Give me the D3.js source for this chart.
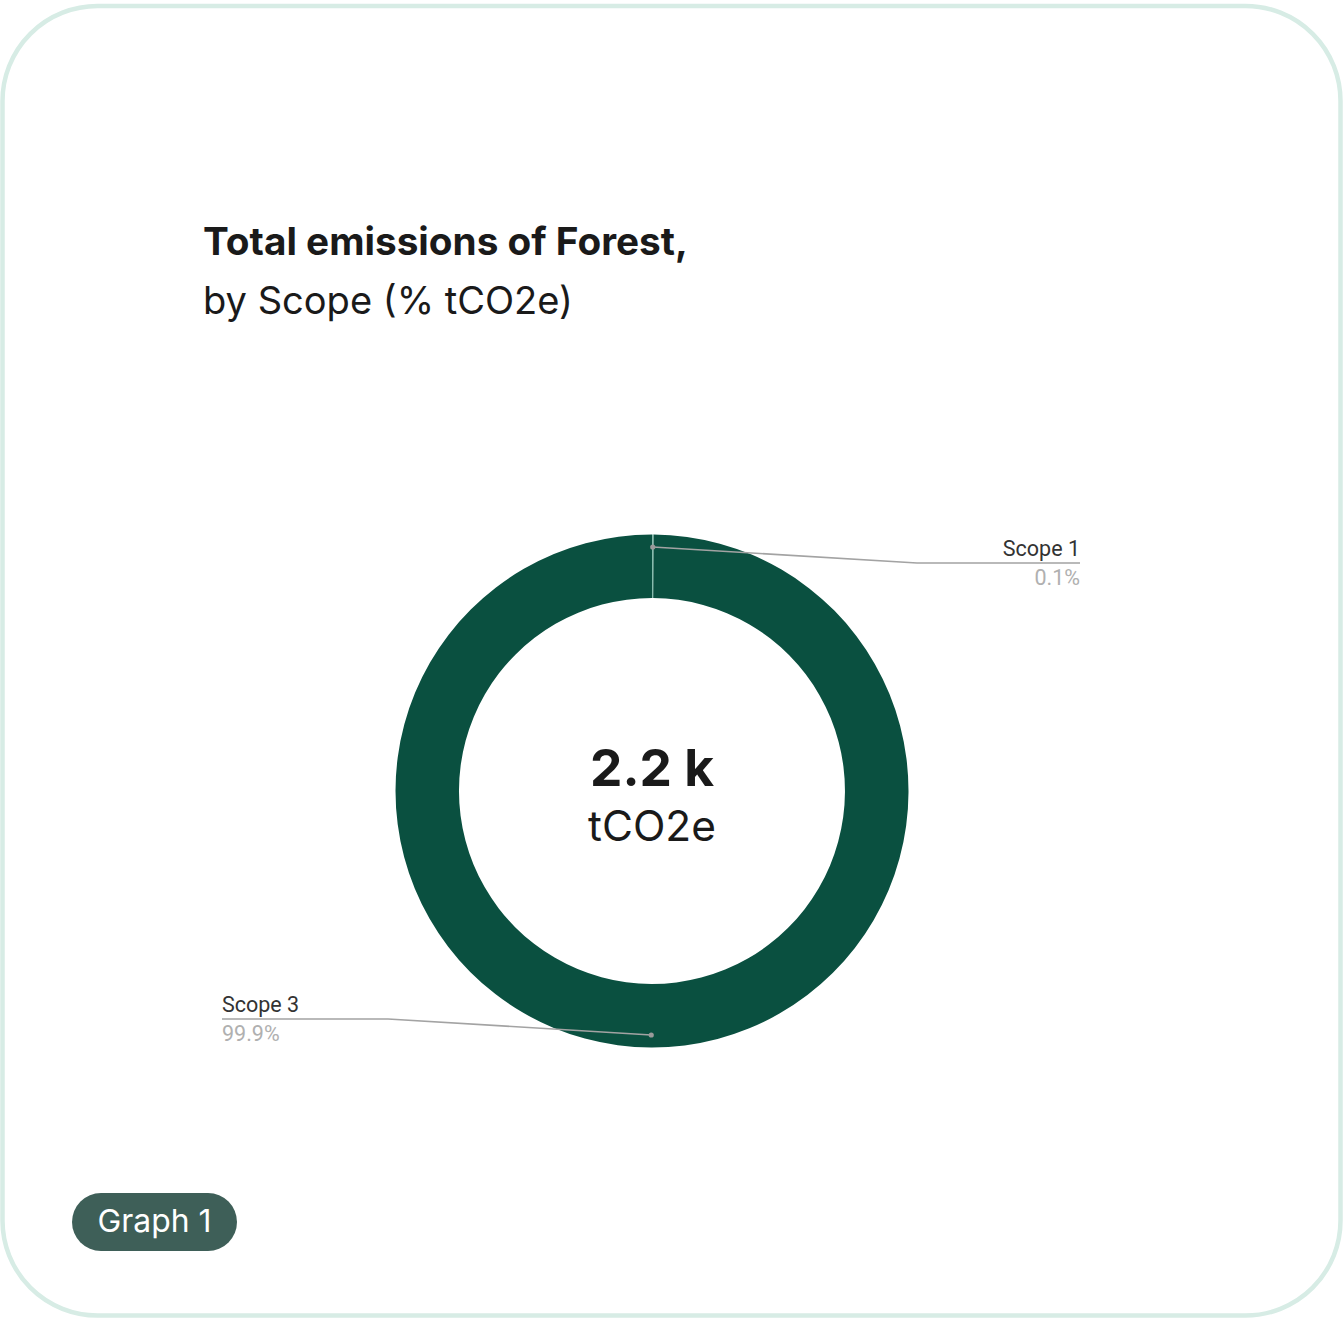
<!DOCTYPE html>
<html>
<head>
<meta charset="utf-8">
<script src="https://cdn.jsdelivr.net/npm/d3@7"></script>
<style>
  html, body { margin: 0; padding: 0; background: #ffffff; }
  svg { display: block; }
</style>
</head>
<body>
<script>
// Emission shares by scope (% of tCO2e)
const scopes = ["Scope 1", "Scope 3"];
const shares = [0.1, 99.9];
const shareLabels = ["0.1%", "99.9%"];
const totalValue = "2.2 k";
const totalUnit = "tCO2e";
const titleLines = ["Total emissions of Forest,", "by Scope (% tCO2e)"];
const badgeText = "Graph 1";

const W = 1343, H = 1319;
const svg = d3.select("body").append("svg").attr("width", W).attr("height", H);

// card frame
svg.append("rect")
  .attr("x", 2.5).attr("y", 6).attr("width", 1338).attr("height", 1309.5)
  .attr("rx", 95).attr("ry", 95)
  .attr("fill", "#ffffff").attr("stroke", "#d7ece5").attr("stroke-width", 4.5);

const sansHead = "Inter, 'DejaVu Sans', sans-serif";

// scale a text element's font size until it spans the given width
function fitWidth(sel, target, start) {
  sel.style("font-size", start + "px");
  const w = sel.node().getComputedTextLength();
  sel.style("font-size", (start * target / w).toFixed(2) + "px");
}

// title
const t1 = svg.append("text").attr("x", 203).attr("y", 255)
  .attr("fill", "#1a1a1a").style("font-family", sansHead).style("font-weight", 700)
  .text(titleLines[0]);
fitWidth(t1, 485, 36);
const t2 = svg.append("text").attr("x", 203).attr("y", 314)
  .attr("fill", "#1a1a1a").style("font-family", sansHead).style("font-weight", 400)
  .text(titleLines[1]);
fitWidth(t2, 370, 36);

// donut
const cx = 652, cy = 791;
const outerR = 256.5, innerR = 193;
const colors = d3.scaleOrdinal().domain(scopes).range(["#86bcad", "#0a5040"]);

const pie = d3.pie().sort(null).value(d => d.value);
const arcs = pie(scopes.map((s, i) => ({ name: s, value: shares[i], label: shareLabels[i] })));
const arc = d3.arc().innerRadius(innerR).outerRadius(outerR);

const g = svg.append("g").attr("transform", `translate(${cx},${cy})`);
g.selectAll("path.slice").data(arcs).enter().append("path")
  .attr("class", "slice")
  .attr("d", arc)
  .attr("fill", d => colors(d.data.name));

// leader lines and labels
const dotArc = d3.arc().innerRadius(244).outerRadius(244);
const labelLayout = {
  "Scope 1": { elbowX: 917, elbowY: 563, endX: 1080, anchor: "end" },
  "Scope 3": { elbowX: 388, elbowY: 1019, endX: 222, anchor: "start" }
};

arcs.forEach(d => {
  const [dx, dy] = dotArc.centroid(d);
  const px = cx + dx, py = cy + dy;
  const L = labelLayout[d.data.name];
  svg.append("path")
    .attr("d", `M${px},${py}L${L.elbowX},${L.elbowY}L${L.endX},${L.elbowY}`)
    .attr("fill", "none").attr("stroke", "#a3a3a3").attr("stroke-width", 1.6);
  svg.append("circle").attr("cx", px).attr("cy", py).attr("r", 2.6).attr("fill", "#9a9a9a");
  svg.append("text")
    .attr("x", L.endX).attr("y", L.elbowY - 7)
    .attr("text-anchor", L.anchor)
    .attr("fill", "#333333")
    .style("font-family", "Roboto, sans-serif").style("font-size", "21.5px")
    .text(d.data.name);
  svg.append("text")
    .attr("x", L.endX).attr("y", L.elbowY + 22)
    .attr("text-anchor", L.anchor)
    .attr("fill", "#b0b0b0")
    .style("font-family", "Roboto, sans-serif").style("font-size", "21.5px")
    .text(d.data.label);
});

// center total
const c1 = svg.append("text").attr("x", cx).attr("y", 786).attr("text-anchor", "middle")
  .attr("fill", "#1a1a1a").style("font-family", sansHead).style("font-weight", 700)
  .text(totalValue);
fitWidth(c1, 124, 52);
const c2 = svg.append("text").attr("x", cx).attr("y", 841).attr("text-anchor", "middle")
  .attr("fill", "#1a1a1a").style("font-family", sansHead).style("font-weight", 400)
  .text(totalUnit);
fitWidth(c2, 128, 40);

// badge
svg.append("rect").attr("x", 72).attr("y", 1193).attr("width", 165).attr("height", 58)
  .attr("rx", 29).attr("fill", "#3e5f58");
const b = svg.append("text").attr("x", 154.5).attr("y", 1232).attr("text-anchor", "middle")
  .attr("fill", "#ffffff").style("font-family", sansHead).style("font-weight", 400)
  .text(badgeText);
fitWidth(b, 114, 29);
</script>
</body>
</html>
